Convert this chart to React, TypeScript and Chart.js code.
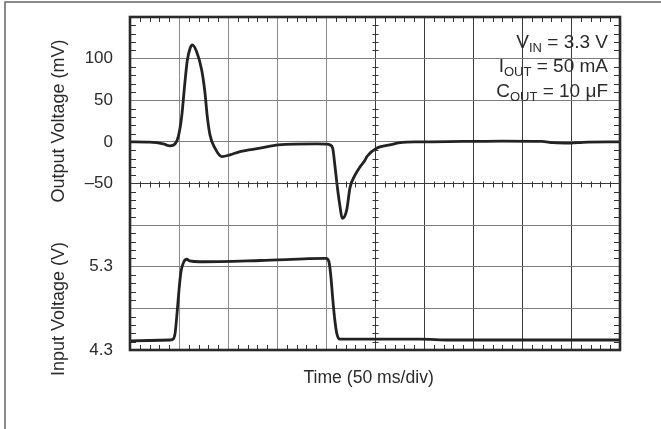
import React, { useEffect, useRef } from "react";
import { Chart, registerables } from "chart.js";

Chart.register(...registerables);

// ---- data ----
const outTimeMs = [0, 20, 34, 40.8, 45.9, 49.3, 52.7, 56, 58.5, 61.5, 63.5, 68.1, 73.2, 76.5, 78.9, 81.6, 86.7, 93.6, 102, 112.2, 132.7, 151.3, 190.5, 200.7, 204.1, 206.8, 209.2, 211.5, 214.3, 216.6, 221.1, 224.5, 229.6, 234.7, 239.8, 241.8, 252, 265.3, 275.5, 296, 340, 380, 420, 432, 450, 462, 500];
const outMv = [0, -0.4, -2.5, -4.8, -2.5, 6.4, 30, 71, 98, 113, 116.5, 108, 86, 59, 30, 8.4, -7.6, -17.6, -15.6, -11.6, -7.6, -3.7, -2.5, -2.8, -3.6, -7.6, -29.6, -53.6, -77.7, -92, -82, -55, -40, -30, -22, -17.6, -7.3, -3.7, -1, 0, 0.5, 1, 0.5, -1, -1.5, -0.5, 0];

const inTimeMs = [0, 41, 44, 46, 48, 50, 52, 55, 58, 61, 71, 133, 200, 203, 205, 207, 209, 211, 214, 219, 296, 327, 500];
const inVolt = [4.41, 4.42, 4.43, 4.5, 4.74, 5.02, 5.24, 5.36, 5.39, 5.37, 5.36, 5.375, 5.4, 5.36, 5.18, 4.9, 4.66, 4.5, 4.43, 4.43, 4.43, 4.42, 4.42];

const timeRange = [0, 500];
const timeStep = 50;
const outRange = [-250, 150];
const outStep = 50;
const inRange = [4.3, 8.3];
const outTickLabels = [100, 50, 0, -50];
const inTickLabels = [5.3, 4.3];

const xTitle = "Time (50 ms/div)";
const yOutTitle = "Output Voltage (mV)";
const yInTitle = "Input Voltage (V)";
const conditions: [string, string, string][] = [
  ["V", "IN", " = 3.3 V"],
  ["I", "OUT", " = 50 mA"],
  ["C", "OUT", " = 10 \u03BCF"],
];

const FONT = "'Liberation Sans', Arial, Helvetica, sans-serif";
const TEXT = "#2b2b2b";

const decorPlugin = {
  id: "decor",
  beforeDraw(chart: any) {
    const ctx = chart.ctx;
    ctx.save();
    ctx.strokeStyle = "#666";
    ctx.lineWidth = 1.5;
    ctx.beginPath();
    ctx.moveTo(5, chart.height);
    ctx.lineTo(5, 2);
    ctx.lineTo(chart.width, 2);
    ctx.stroke();
    ctx.restore();
  },
  afterDraw(chart: any) {
    const { ctx, chartArea: a, scales } = chart;
    const x = scales.x;
    const y = scales.y;
    ctx.save();
    // minor ticks
    ctx.strokeStyle = "#333";
    ctx.lineWidth = 1;
    const xc = Math.round(x.getPixelForValue((timeRange[0] + timeRange[1]) / 2));
    const yc = Math.round(y.getPixelForValue(-50));
    ctx.beginPath();
    for (let t = timeRange[0]; t <= timeRange[1]; t += 10) {
      if (t % 50 === 0) continue;
      const px = Math.round(x.getPixelForValue(t)) + 0.5;
      ctx.moveTo(px, a.top);
      ctx.lineTo(px, a.top + 5);
      ctx.moveTo(px, a.bottom);
      ctx.lineTo(px, a.bottom - 5);
      ctx.moveTo(px, yc - 2.5);
      ctx.lineTo(px, yc + 3.5);
    }
    for (let v = outRange[0]; v <= outRange[1]; v += 10) {
      if (v % 50 === 0) continue;
      const py = Math.round(y.getPixelForValue(v)) + 0.5;
      ctx.moveTo(a.left, py);
      ctx.lineTo(a.left + 6, py);
      ctx.moveTo(a.right, py);
      ctx.lineTo(a.right - 6, py);
      ctx.moveTo(xc - 2.5, py);
      ctx.lineTo(xc + 3.5, py);
    }
    ctx.stroke();
    // frame
    ctx.strokeStyle = "#2a2a2a";
    ctx.lineWidth = 2.6;
    ctx.strokeRect(a.left, a.top, a.right - a.left, a.bottom - a.top);

    // conditions box text
    ctx.fillStyle = TEXT;
    ctx.textBaseline = "alphabetic";
    ctx.textAlign = "left";
    const xr = a.right - 12;
    const baselines = [a.top + 31, a.top + 55, a.top + 79.5];
    conditions.forEach((c, i) => {
      const big = `19px ${FONT}`;
      const small = `13px ${FONT}`;
      ctx.font = big;
      const w1 = ctx.measureText(c[0]).width;
      const w3 = ctx.measureText(c[2]).width;
      ctx.font = small;
      const w2 = ctx.measureText(c[1]).width;
      const start = xr - (w1 + w2 + w3);
      const by = baselines[i];
      ctx.font = big;
      ctx.fillText(c[0], start, by);
      ctx.font = small;
      ctx.fillText(c[1], start + w1, by + 4);
      ctx.font = big;
      ctx.fillText(c[2], start + w1 + w2, by);
    });

    // axis titles
    ctx.font = `17.6px ${FONT}`;
    ctx.textAlign = "center";
    ctx.fillText(xTitle, a.left + (a.right - a.left) * 0.487, a.bottom + 33);

    ctx.font = `18px ${FONT}`;
    ctx.save();
    ctx.translate(63.5, a.top + 104);
    ctx.rotate(-Math.PI / 2);
    ctx.fillText(yOutTitle, 0, 0);
    ctx.restore();
    ctx.save();
    ctx.translate(63.5, a.top + 292);
    ctx.rotate(-Math.PI / 2);
    ctx.fillText(yInTitle, 0, 0);
    ctx.restore();

    ctx.restore();
  },
};

export default function App() {
  const ref = useRef<HTMLCanvasElement | null>(null);

  useEffect(() => {
    if (!ref.current) return;
    const outData = outTimeMs.map((t, i) => ({ x: t, y: outMv[i] }));
    const inData = inTimeMs.map((t, i) => ({ x: t, y: inVolt[i] }));
    const chart = new Chart(ref.current, {
      type: "line",
      data: {
        datasets: [
          {
            data: outData,
            yAxisID: "y",
            borderColor: "#222",
            borderWidth: 2.8,
            pointRadius: 0,
            cubicInterpolationMode: "monotone",
            fill: false,
          },
          {
            data: inData,
            yAxisID: "yIn",
            borderColor: "#222",
            borderWidth: 2.8,
            pointRadius: 0,
            cubicInterpolationMode: "monotone",
            fill: false,
          },
        ],
      },
      options: {
        animation: false,
        responsive: false,
        devicePixelRatio: 1,
        layout: { padding: { left: 0, top: 17, right: 41, bottom: 0 } },
        plugins: {
          legend: { display: false },
          tooltip: { enabled: false },
          title: { display: false },
        },
        scales: {
          x: {
            type: "linear",
            min: timeRange[0],
            max: timeRange[1],
            ticks: { stepSize: timeStep, display: false },
            border: { display: false },
            grid: {
              drawTicks: false,
              lineWidth: 1,
              color: (c: any) => (c.tick && c.tick.value >= 250 ? "#3a3a3a" : "#8c8c8c"),
            },
            afterFit: (s: any) => {
              s.height = 79;
              s.paddingLeft = 0;
              s.paddingRight = 0;
            },
          },
          y: {
            type: "linear",
            position: "left",
            min: outRange[0],
            max: outRange[1],
            border: { display: false },
            grid: {
              drawTicks: false,
              lineWidth: 1,
              color: (c: any) => (c.tick && c.tick.value === -50 ? "#3a3a3a" : "#7d7d7d"),
            },
            ticks: {
              stepSize: outStep,
              padding: 17,
              color: TEXT,
              font: { family: FONT, size: 17 },
              callback: (value: any) => {
                const v = Math.round(Number(value));
                if (outTickLabels.includes(v)) return v < 0 ? "\u2013" + Math.abs(v) : String(v);
                const vin =
                  inRange[0] + ((v - outRange[0]) * (inRange[1] - inRange[0])) / (outRange[1] - outRange[0]);
                const hit = inTickLabels.find((t) => Math.abs(t - vin) < 1e-6);
                return hit !== undefined ? hit.toFixed(1) : "";
              },
            },
            afterFit: (s: any) => {
              s.width = 130;
              s.paddingTop = 0;
              s.paddingBottom = 0;
            },
          },
          yIn: {
            type: "linear",
            position: "left",
            display: false,
            min: inRange[0],
            max: inRange[1],
          },
        },
      },
      plugins: [decorPlugin],
    } as any);
    return () => chart.destroy();
  }, []);

  return (
    <div style={{ position: "fixed", left: 0, top: 0, width: 661, height: 429, background: "#fff" }}>
      <canvas ref={ref} width={661} height={429} style={{ display: "block" }} />
    </div>
  );
}
